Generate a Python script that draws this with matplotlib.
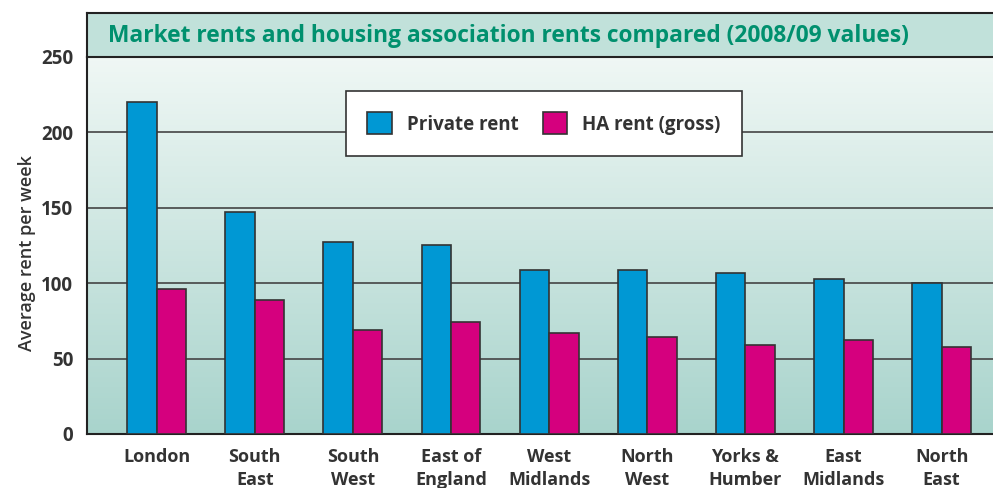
import numpy as np
import matplotlib.pyplot as plt

regions = ["London", "South\nEast", "South\nWest", "East of\nEngland", "West\nMidlands",
           "North\nWest", "Yorks &\nHumber", "East\nMidlands", "North\nEast"]
private_rent = [220, 147, 127, 125, 109, 109, 107, 103, 100]
ha_rent = [96, 89, 69, 74, 67, 64, 59, 62, 58]
y_ticks = [0, 50, 100, 150, 200, 250]

title = "Market rents and housing association rents compared (2008/09 values)"
dark = '#333333'

plt.rcParams['font.family'] = ['Open Sans', 'DejaVu Sans']

fig = plt.figure(figsize=(9.93, 4.88), dpi=100)
ax = fig.add_axes([0.0876, 0.1107, 0.92, 0.7725])

# gradient background
grad = np.linspace(0, 1, 256).reshape(-1, 1)
top = np.array([0.94, 0.97, 0.96])
bot = np.array([0.66, 0.83, 0.80])
img = top + (bot - top) * grad[:, :, None] * np.ones((1, 1, 3))
ax.imshow(img, extent=[-0.71, 8.6, 0, 250], aspect='auto', zorder=0, origin='upper')

x = np.arange(len(regions))
w = 0.3
ax.bar(x - w / 2, private_rent, w, color='#0098d4', edgecolor=dark, linewidth=1.2,
       label='Private rent', zorder=3)
ax.bar(x + w / 2, ha_rent, w, color='#d5007e', edgecolor=dark, linewidth=1.2,
       label='HA rent (gross)', zorder=3)

for v in y_ticks[1:-1]:
    ax.axhline(v, color='#444444', linewidth=1.2, zorder=1)

ax.set_xlim(-0.71, 8.6)
ax.set_ylim(0, 250)
ax.set_yticks(y_ticks)
ax.set_xticks(x)
ax.set_xticklabels(regions, fontsize=13, fontweight='bold', color=dark, linespacing=1.4)
for lab in ax.get_yticklabels():
    lab.set_fontsize(13.5)
    lab.set_fontweight('bold')
    lab.set_color(dark)
ax.tick_params(length=0, pad=10)
ax.tick_params(axis='x', pad=10)
for s in ['top', 'right']:
    ax.spines[s].set_visible(False)
for s in ['left', 'bottom']:
    ax.spines[s].set_color('#222222')
    ax.spines[s].set_linewidth(1.5)
ax.set_ylabel('Average rent per week', fontsize=13, fontweight='semibold', color=dark)
ax.yaxis.set_label_coords(-0.056, 0.48)

leg = ax.legend(loc='upper center', bbox_to_anchor=(0.5, 0.91), ncol=2, fancybox=False,
                framealpha=1, edgecolor=dark, handlelength=1.3, handleheight=1.4,
                borderpad=1.15, borderaxespad=0, columnspacing=1.3, handletextpad=0.8,
                prop={'weight': 'bold', 'size': 13.5})
for t in leg.get_texts():
    t.set_color(dark)
leg.get_frame().set_linewidth(1.2)
leg.set_zorder(5)

# title band
tax = fig.add_axes([0.0876, 0.883, 0.92, 0.0912])
tax.set_facecolor('#c1e1da')
tax.set_xticks([])
tax.set_yticks([])
for s in tax.spines.values():
    s.set_color('#222222')
    s.set_linewidth(1.5)
tax.text(0.0225, 0.48, title, transform=tax.transAxes, fontsize=16.4, fontweight='bold',
         color='#00906e', va='center', ha='left')

fig.savefig('out.png', dpi=100)
